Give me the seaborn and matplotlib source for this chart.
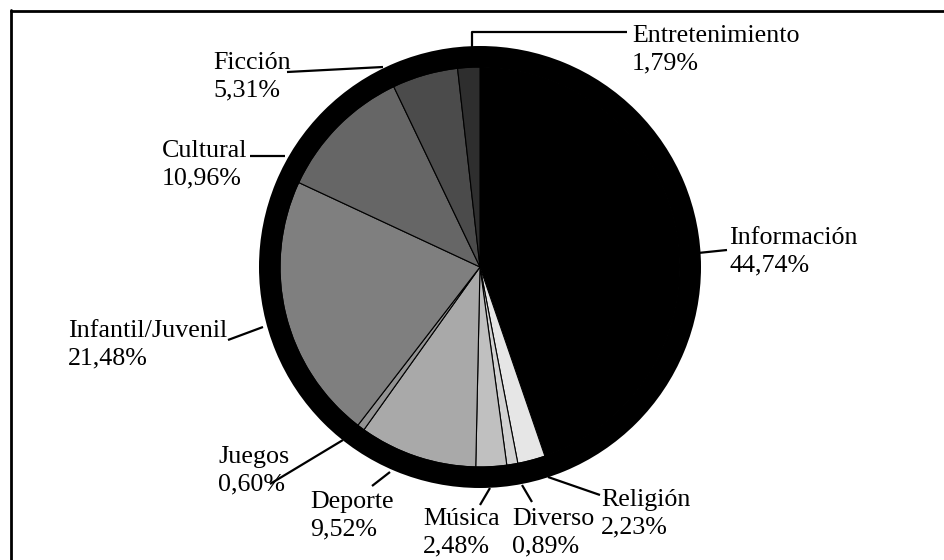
import matplotlib
matplotlib.use("Agg")
import matplotlib.pyplot as plt
from matplotlib.lines import Line2D
import seaborn as sns

# Datos del gráfico (orden horario desde arriba)
categorias = ["Información", "Religión", "Diverso", "Música", "Deporte",
              "Juegos", "Infantil/Juvenil", "Cultural", "Ficción", "Entretenimiento"]
porcentajes = [44.74, 2.23, 0.89, 2.48, 9.52, 0.60, 21.48, 10.96, 5.31, 1.79]

# Colores de cada sector
colores = ["#000000", "#e6e6e6", "#d2d2d2", "#c0c0c0", "#a9a9a9",
           "#939393", "#7f7f7f", "#666666", "#4b4b4b", "#2e2e2e"]

# Posiciones de etiquetas (pixeles): x izquierda, linea base del nombre
pos_texto = [(729, 244), (601, 506), (512, 525), (423, 525), (310, 508),
             (218, 463), (68, 337), (162, 157), (213, 69), (632, 42)]
# Lineas guia (pixeles)
lineas_guia = [
    [(698, 253), (727, 250)],
    [(600, 495), (548, 477)],
    [(532, 502), (522, 485)],
    [(480, 505), (490, 488)],
    [(372, 486), (390, 472)],
    [(270, 484), (343, 440)],
    [(228, 340), (263, 327)],
    [(250, 156), (285, 156)],
    [(287, 72), (383, 67)],
    [(472, 47), (472, 32), (627, 32)],
]

W, H = 944, 560
centro = (480, H - 267)
r_int, r_ext = 200, 221

sns.set_theme(style="white")
plt.rcParams['font.family'] = ['Liberation Serif', 'DejaVu Serif']

fig = plt.figure(figsize=(W / 100, H / 100), dpi=100)
ax = fig.add_axes([0, 0, 1, 1])

# Sectores
ax.pie(porcentajes, radius=r_int, center=centro, colors=colores,
       startangle=90, counterclock=False,
       wedgeprops=dict(edgecolor="black", linewidth=0.8))

# Anillo negro exterior (encima, para tapar el borde)
ax.pie([1], radius=r_ext, center=centro, colors=["black"],
       wedgeprops=dict(width=r_ext - r_int + 0.6, linewidth=0, zorder=3))

def py(y):
    return H - y

for nombre, valor, (tx, ty), linea in zip(categorias, porcentajes, pos_texto, lineas_guia):
    pct = f"{valor:.2f}".replace(".", ",") + "%"
    ax.text(tx, py(ty), nombre, fontsize=18.7, va="baseline", ha="left", color="black")
    ax.text(tx, py(ty + 27), pct, fontsize=18.7, va="baseline", ha="left", color="black")
    xs = [p[0] for p in linea]
    ys = [py(p[1]) for p in linea]
    ax.plot(xs, ys, color="black", linewidth=1.6, solid_capstyle="butt", zorder=4)

ax.set_xlim(0, W)
ax.set_ylim(0, H)
ax.set_aspect("equal")
ax.axis("off")

# Marco superior e izquierdo
fig.add_artist(Line2D([10.5 / W, 1], [1 - 11 / H, 1 - 11 / H], color="black", linewidth=2,
                      transform=fig.transFigure))
fig.add_artist(Line2D([10.5 / W, 10.5 / W], [0, 1 - 10 / H], color="black", linewidth=2,
                      transform=fig.transFigure))

fig.savefig("out.png", dpi=100)
